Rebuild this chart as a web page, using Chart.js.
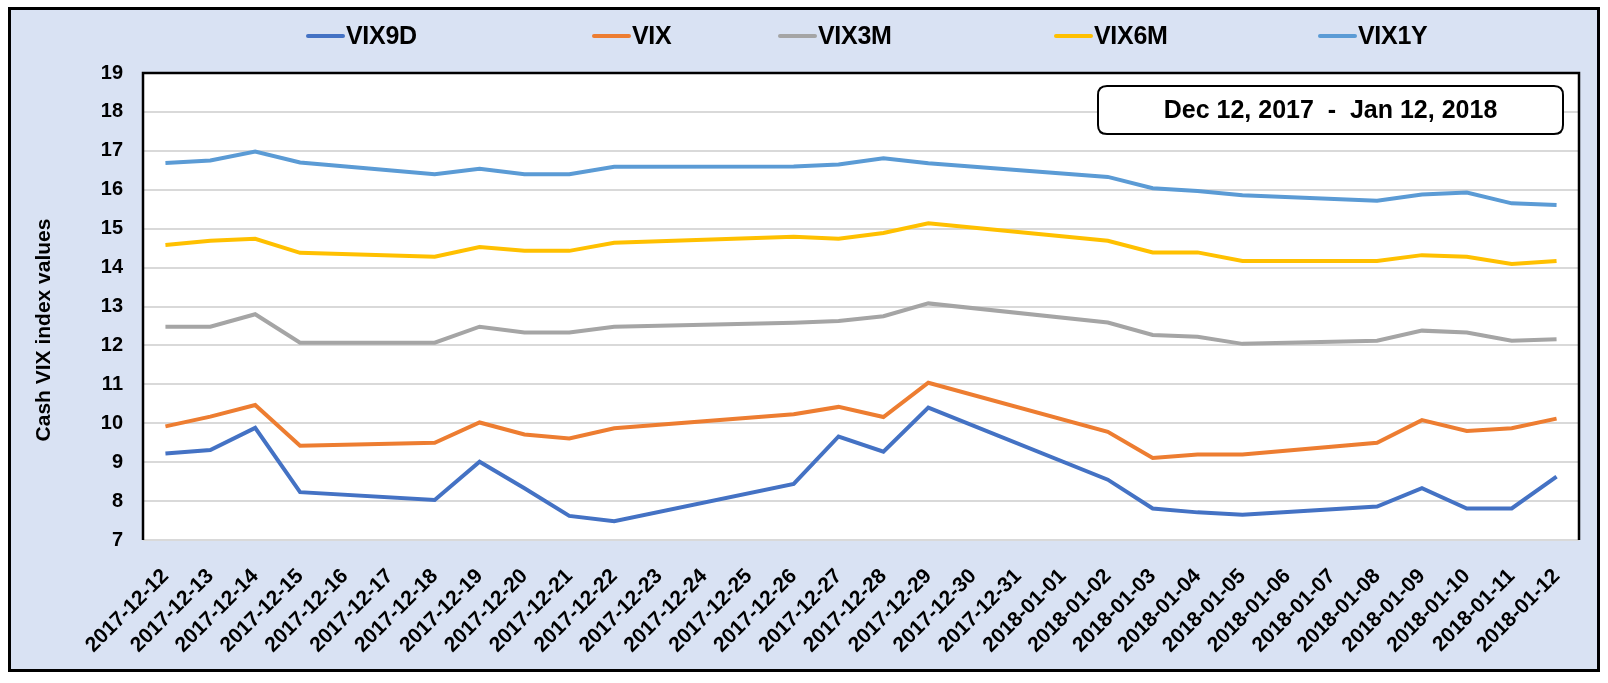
<!DOCTYPE html>
<html>
<head>
<meta charset="utf-8">
<title>Cash VIX term structure</title>
<script src="https://cdn.jsdelivr.net/npm/chart.js@4.4.0/dist/chart.umd.min.js"></script>
<style>
    body { margin: 0; background: #fff; }
    #wrap { position: relative; width: 1608px; height: 683px; }
    #legend { position: absolute; left: 0; top: 0; width: 100%; height: 60px; }
    .item {
        position: absolute; top: 21px; display: flex; align-items: center;
        font: bold 25px "Liberation Sans", Arial, sans-serif; color: #000;
        white-space: nowrap; letter-spacing: -0.3px;
    }
    .item .line { display: inline-block; width: 39px; height: 4px; border-radius: 2px; margin-right: 1px; }
</style>
</head>
<body>
<div id="wrap">
    <canvas id="vixChart" width="1608" height="683"></canvas>
    <div id="legend"></div>
</div>
<script>
// Calendar days on the axis, nulls are non-trading days
var dates = [
    '2017-12-12', '2017-12-13', '2017-12-14', '2017-12-15', '2017-12-16', '2017-12-17',
    '2017-12-18', '2017-12-19', '2017-12-20', '2017-12-21', '2017-12-22', '2017-12-23',
    '2017-12-24', '2017-12-25', '2017-12-26', '2017-12-27', '2017-12-28', '2017-12-29',
    '2017-12-30', '2017-12-31', '2018-01-01', '2018-01-02', '2018-01-03', '2018-01-04',
    '2018-01-05', '2018-01-06', '2018-01-07', '2018-01-08', '2018-01-09', '2018-01-10',
    '2018-01-11', '2018-01-12'
];

var vix9d = [9.22, 9.31, 9.88, 8.23, null, null, 8.03, 9.01, 8.33, 7.62, 7.48, null,
    null, null, 8.44, 9.66, 9.27, 10.4, null, null, null, 8.55, 7.81, 7.71,
    7.65, null, null, 7.86, 8.33, 7.81, 7.81, 8.63];

var vix = [9.92, 10.17, 10.47, 9.42, null, null, 9.5, 10.02, 9.71, 9.61, 9.87, null,
    null, null, 10.23, 10.42, 10.16, 11.04, null, null, null, 9.78, 9.11, 9.2,
    9.2, null, null, 9.5, 10.08, 9.8, 9.87, 10.12];

var vix3m = [12.48, 12.48, 12.8, 12.07, null, null, 12.07, 12.48, 12.33, 12.33, 12.48, null,
    null, null, 12.58, 12.63, 12.75, 13.08, null, null, null, 12.59, 12.27, 12.22,
    12.04, null, null, 12.12, 12.38, 12.33, 12.12, 12.16];

var vix6m = [14.58, 14.69, 14.74, 14.38, null, null, 14.28, 14.53, 14.43, 14.43, 14.64, null,
    null, null, 14.79, 14.74, 14.89, 15.14, null, null, null, 14.69, 14.39, 14.39,
    14.17, null, null, 14.17, 14.32, 14.28, 14.09, 14.17];

var vix1y = [16.69, 16.75, 16.98, 16.7, null, null, 16.4, 16.54, 16.4, 16.4, 16.59, null,
    null, null, 16.6, 16.65, 16.81, 16.68, null, null, null, 16.33, 16.04, 15.97,
    15.86, null, null, 15.72, 15.88, 15.93, 15.65, 15.61];

var seriesNames = ['VIX9D', 'VIX', 'VIX3M', 'VIX6M', 'VIX1Y'];
var seriesColors = ['#4472C4', '#ED7D31', '#A5A5A5', '#FFC000', '#5B9BD5'];
var seriesData = [vix9d, vix, vix3m, vix6m, vix1y];

var dateRangeText = 'Dec 12, 2017  -  Jan 12, 2018';
var yTitle = 'Cash VIX index values';

// legend item left edges (px), Excel spreads them unevenly
var legendLeft = [306, 592, 778, 1054, 1318];

var FONT = '"Liberation Sans", Arial, sans-serif';

function roundRect(ctx, x, y, w, h, r) {
    ctx.beginPath();
    ctx.moveTo(x + r, y);
    ctx.lineTo(x + w - r, y);
    ctx.quadraticCurveTo(x + w, y, x + w, y + r);
    ctx.lineTo(x + w, y + h - r);
    ctx.quadraticCurveTo(x + w, y + h, x + w - r, y + h);
    ctx.lineTo(x + r, y + h);
    ctx.quadraticCurveTo(x, y + h, x, y + h - r);
    ctx.lineTo(x, y + r);
    ctx.quadraticCurveTo(x, y, x + r, y);
    ctx.closePath();
}

var framePlugin = {
    id: 'frame',
    beforeDraw: function(chart) {
        var ctx = chart.ctx;
        var a = chart.chartArea;
        ctx.save();
        // outer panel
        ctx.fillStyle = '#D9E2F3';
        ctx.fillRect(8, 7, 1592, 665);
        // plot area
        ctx.fillStyle = '#ffffff';
        ctx.fillRect(a.left, a.top, a.right - a.left, a.bottom - a.top);
        ctx.restore();
    },
    afterDraw: function(chart) {
        var ctx = chart.ctx;
        var a = chart.chartArea;
        ctx.save();
        ctx.strokeStyle = '#000';

        // outer frame
        ctx.lineWidth = 3;
        ctx.strokeRect(9.5, 8.5, 1589, 662);

        // plot border: left, top and right only
        ctx.lineWidth = 2.5;
        ctx.beginPath();
        ctx.moveTo(a.left, a.bottom);
        ctx.lineTo(a.left, a.top);
        ctx.lineTo(a.right, a.top);
        ctx.lineTo(a.right, a.bottom);
        ctx.stroke();

        // y axis title, sits a bit below the plot's middle like in Excel
        ctx.fillStyle = '#000';
        ctx.font = 'bold 21px ' + FONT;
        ctx.textAlign = 'center';
        ctx.textBaseline = 'middle';
        ctx.translate(44, 330);
        ctx.rotate(-Math.PI / 2);
        ctx.fillText(yTitle, 0, 0);
        ctx.setTransform(1, 0, 0, 1, 0, 0);

        // date range box
        var bw = 465, bh = 48;
        var bx = a.right - 16 - bw, by = a.top + 13;
        roundRect(ctx, bx, by, bw, bh, 9);
        ctx.fillStyle = '#fff';
        ctx.fill();
        ctx.lineWidth = 2;
        ctx.stroke();
        ctx.fillStyle = '#000';
        ctx.font = 'bold 25px ' + FONT;
        ctx.fillText(dateRangeText, bx + bw / 2, by + bh / 2 + 1);
        ctx.restore();
    }
};

var datasets = seriesNames.map(function(name, i) {
    return {
        label: name,
        data: seriesData[i],
        borderColor: seriesColors[i],
        backgroundColor: seriesColors[i],
        borderWidth: 4,
        pointRadius: 0,
        spanGaps: true,
        tension: 0
    };
});

var vixChart = new Chart(document.getElementById('vixChart'), {
    type: 'line',
    data: {
        labels: dates,
        datasets: datasets
    },
    options: {
        responsive: false,
        animation: false,
        layout: {
            padding: { left: 27, right: 29, top: 73, bottom: 23 }
        },
        plugins: {
            legend: { display: false },
            tooltip: { enabled: false }
        },
        scales: {
            x: {
                offset: true,
                grid: { display: false },
                border: { display: false },
                ticks: {
                    autoSkip: false,
                    maxRotation: 45,
                    minRotation: 45,
                    padding: 16,
                    color: '#000',
                    font: { family: FONT, size: 21, weight: 'bold' }
                },
                afterFit: function(scale) {
                    scale.height = 120;
                }
            },
            y: {
                min: 7,
                max: 19,
                ticks: {
                    stepSize: 1,
                    padding: 20,
                    color: '#000',
                    font: { family: FONT, size: 20, weight: 'bold' }
                },
                grid: {
                    color: '#D9D9D9',
                    lineWidth: 2,
                    drawTicks: false
                },
                border: { display: false },
                afterFit: function(scale) {
                    scale.width = 116;
                }
            }
        }
    },
    plugins: [framePlugin]
});

// HTML legend built from the chart's datasets
function buildLegend(chart) {
    var box = document.getElementById('legend');
    box.innerHTML = '';
    chart.data.datasets.forEach(function(ds, i) {
        var item = document.createElement('div');
        item.className = 'item';
        item.style.left = legendLeft[i] + 'px';
        var line = document.createElement('span');
        line.className = 'line';
        line.style.background = ds.borderColor;
        var text = document.createElement('span');
        text.textContent = ds.label;
        item.appendChild(line);
        item.appendChild(text);
        box.appendChild(item);
    });
}

buildLegend(vixChart);
</script>
</body>
</html>
